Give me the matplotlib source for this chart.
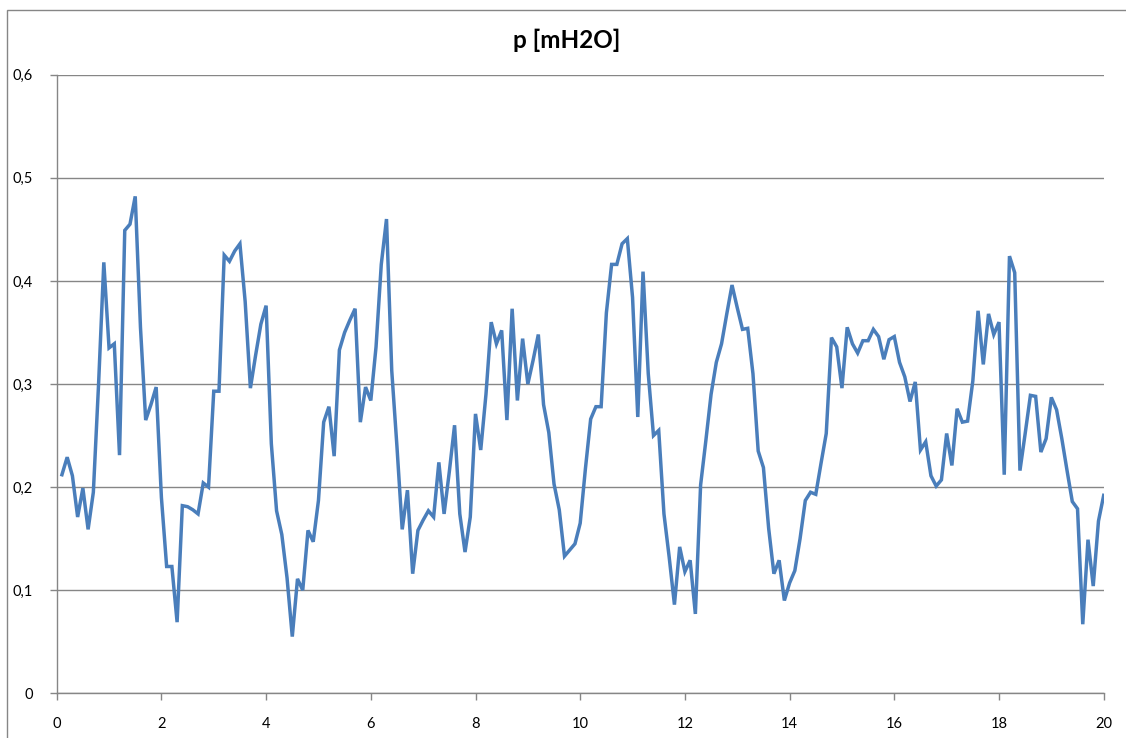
import numpy as np
import matplotlib
matplotlib.use('Agg')
import matplotlib.pyplot as plt
from matplotlib.ticker import FuncFormatter, MultipleLocator
from matplotlib.patches import Rectangle

# time axis, one sample every 0.1 from 0.1 to 20.0
t = np.round(np.arange(1, 201) * 0.1, 1)

# pressure values [mH2O]
p = [
    0.212, 0.229, 0.211, 0.171, 0.199, 0.159, 0.195, 0.300, 0.418, 0.335,
    0.339, 0.231, 0.449, 0.455, 0.482, 0.355, 0.265, 0.280, 0.297, 0.190,
    0.123, 0.123, 0.069, 0.182, 0.181, 0.178, 0.174, 0.204, 0.200, 0.293,
    0.293, 0.425, 0.419, 0.429, 0.436, 0.380, 0.296, 0.328, 0.358, 0.376,
    0.242, 0.177, 0.154, 0.112, 0.055, 0.111, 0.100, 0.158, 0.147, 0.187,
    0.263, 0.278, 0.230, 0.333, 0.350, 0.362, 0.373, 0.263, 0.297, 0.284,
    0.336, 0.416, 0.460, 0.313, 0.239, 0.159, 0.197, 0.116, 0.158, 0.168,
    0.177, 0.171, 0.224, 0.174, 0.215, 0.260, 0.174, 0.137, 0.171, 0.271,
    0.236, 0.290, 0.360, 0.339, 0.352, 0.265, 0.373, 0.284, 0.344, 0.300,
    0.323, 0.348, 0.280, 0.253, 0.203, 0.178, 0.133, 0.139, 0.145, 0.165,
    0.218, 0.266, 0.278, 0.278, 0.369, 0.416, 0.416, 0.436, 0.441, 0.384,
    0.268, 0.409, 0.310, 0.250, 0.255, 0.174, 0.132, 0.086, 0.142, 0.118,
    0.129, 0.077, 0.202, 0.245, 0.290, 0.321, 0.339, 0.368, 0.396, 0.374,
    0.353, 0.354, 0.310, 0.235, 0.219, 0.160, 0.116, 0.129, 0.090, 0.107,
    0.119, 0.150, 0.187, 0.195, 0.193, 0.223, 0.252, 0.345, 0.336, 0.296,
    0.355, 0.339, 0.330, 0.342, 0.342, 0.353, 0.346, 0.324, 0.343, 0.346,
    0.321, 0.307, 0.283, 0.302, 0.236, 0.244, 0.211, 0.201, 0.207, 0.252,
    0.221, 0.276, 0.263, 0.264, 0.303, 0.371, 0.319, 0.368, 0.348, 0.360,
    0.212, 0.424, 0.408, 0.216, 0.252, 0.289, 0.288, 0.234, 0.247, 0.287,
    0.275, 0.247, 0.216, 0.186, 0.179, 0.067, 0.149, 0.104, 0.167, 0.192,
]

title = 'p [mH2O]'
grey = '#868686'

plt.rcParams['font.family'] = ['Lato', 'DejaVu Sans']

fig = plt.figure(figsize=(11.26, 7.38), dpi=100)
fig.patch.set_facecolor('white')

# outer chart frame (runs off the bottom/right of the image)
fig.patches.append(Rectangle((7.5 / 1126, -0.05), 1.2, (738 - 10) / 738 + 0.05,
                             transform=fig.transFigure, fill=False,
                             edgecolor=grey, lw=1.0))

ax = fig.add_axes([56.7 / 1126, (738 - 693.3) / 738, 1047 / 1126, 618.6 / 738])
ax.plot(t, p, color='#4A7EBB', lw=2.5, solid_joinstyle='miter')

ax.set_xlim(0, 20)
ax.set_ylim(0, 0.6)
ax.xaxis.set_major_locator(MultipleLocator(2))
ax.yaxis.set_major_locator(MultipleLocator(0.1))
ax.yaxis.set_major_formatter(FuncFormatter(
    lambda v, _: '0' if abs(v) < 1e-9 else f'{v:.1f}'.replace('.', ',')))
ax.xaxis.set_major_formatter(FuncFormatter(lambda v, _: f'{v:.0f}'))

ax.grid(axis='y', color=grey, lw=1.0)
ax.set_axisbelow(True)
for s in ['top', 'right']:
    ax.spines[s].set_visible(False)
for s in ['left', 'bottom']:
    ax.spines[s].set_color(grey)
    ax.spines[s].set_linewidth(1.0)
ax.tick_params(axis='both', colors=grey, length=5, width=1.0,
               labelcolor='black', labelsize=10.5)
ax.tick_params(axis='x', pad=12)
ax.tick_params(axis='y', pad=12)

fig.text(567 / 1126, 1 - 40 / 738, title, ha='center', va='center',
         fontsize=17.5, fontweight='bold')

fig.savefig('out.png', dpi=100)
